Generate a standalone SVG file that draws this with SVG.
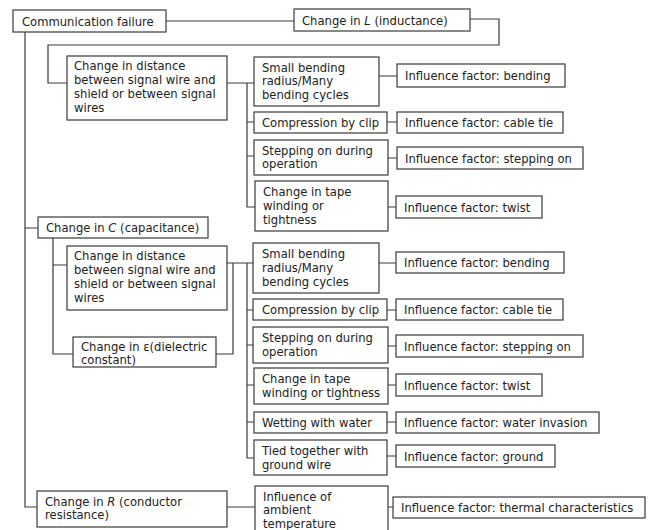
<svg xmlns="http://www.w3.org/2000/svg" width="649" height="530" viewBox="0 0 649 530">
<style>
rect{fill:#fff;stroke:#3a3a3a;stroke-width:1.2}
text{font-family:"DejaVu Sans",Verdana,sans-serif;font-size:11.6px;fill:#222}
#connectors path{fill:none;stroke:#3a3a3a;stroke-width:1.2}
</style>
<rect x="0" y="0" width="649" height="530" style="stroke:none"/>
<g id="connectors">
<path d="M166,21H294M470,19H499V45H48V83H67"/>
<path d="M25,32V507H37"/>
<path d="M227,83H254M247,83V207H255M247,122H254M247,156H254M379,76H397M387,122H397M388,158H397M388,207H396"/>
<path d="M25,228H38M53,238V354H73M53,265H67"/>
<path d="M227,263H253M233,263V354H216M247,263V458H254M247,310H253M247,345H253M247,385H254M247,422H254M379,263H396M387,310H396M388,346H396M388,385H396M387,422H396M387,456H396"/>
<path d="M227,507H255M388,507H393"/>
</g>
<g id="n-comm"><rect x="13" y="10" width="153" height="22"/><text x="22" y="26">Communication failure</text></g>
<g id="n-L"><rect x="294" y="9" width="176" height="22"/><text x="302" y="25">Change in <tspan font-style="italic">L</tspan> (inductance)</text></g>
<g id="n-distL"><rect x="67" y="56" width="160" height="64"/><text x="74" y="70">Change in distance</text><text x="74" y="84">between signal wire and</text><text x="74" y="98">shield or between signal</text><text x="74" y="112">wires</text></g>
<g id="n-bendL"><rect x="254" y="57" width="125" height="49"/><text x="262" y="72">Small bending</text><text x="262" y="85">radius/Many</text><text x="262" y="99">bending cycles</text></g>
<g id="n-ifbendL"><rect x="397" y="64" width="168" height="23"/><text x="405" y="80">Influence factor: bending</text></g>
<g id="n-clipL"><rect x="254" y="112" width="133" height="21"/><text x="262" y="127">Compression by clip</text></g>
<g id="n-ifclipL"><rect x="397" y="112" width="166" height="21"/><text x="405" y="127">Influence factor: cable tie</text></g>
<g id="n-stepL"><rect x="254" y="140" width="134" height="35"/><text x="262" y="155">Stepping on during</text><text x="262" y="168">operation</text></g>
<g id="n-ifstepL"><rect x="397" y="147" width="186" height="22"/><text x="405" y="163">Influence factor: stepping on</text></g>
<g id="n-tapeL"><rect x="255" y="181" width="133" height="50"/><text x="263" y="196">Change in tape</text><text x="263" y="210">winding or</text><text x="263" y="224">tightness</text></g>
<g id="n-iftwistL"><rect x="396" y="196" width="146" height="22"/><text x="404" y="212">Influence factor: twist</text></g>
<g id="n-C"><rect x="38" y="217" width="170" height="21"/><text x="46" y="232">Change in <tspan font-style="italic">C</tspan> (capacitance)</text></g>
<g id="n-distC"><rect x="67" y="246" width="160" height="64"/><text x="74" y="260">Change in distance</text><text x="74" y="274">between signal wire and</text><text x="74" y="288">shield or between signal</text><text x="74" y="302">wires</text></g>
<g id="n-eps"><rect x="73" y="337" width="143" height="30"/><text x="81" y="351">Change in ε(dielectric</text><text x="81" y="364">constant)</text></g>
<g id="n-bendC"><rect x="253" y="243" width="126" height="50"/><text x="262" y="258">Small bending</text><text x="262" y="272">radius/Many</text><text x="262" y="286">bending cycles</text></g>
<g id="n-ifbendC"><rect x="396" y="252" width="168" height="21"/><text x="404" y="267">Influence factor: bending</text></g>
<g id="n-clipC"><rect x="253" y="299" width="134" height="21"/><text x="262" y="314">Compression by clip</text></g>
<g id="n-ifclipC"><rect x="396" y="299" width="167" height="21"/><text x="404" y="314">Influence factor: cable tie</text></g>
<g id="n-stepC"><rect x="253" y="327" width="135" height="36"/><text x="262" y="342">Stepping on during</text><text x="262" y="356">operation</text></g>
<g id="n-ifstepC"><rect x="396" y="335" width="187" height="22"/><text x="404" y="351">Influence factor: stepping on</text></g>
<g id="n-tapeC"><rect x="254" y="368" width="134" height="36"/><text x="262" y="383">Change in tape</text><text x="262" y="397">winding or tightness</text></g>
<g id="n-iftwistC"><rect x="396" y="374" width="146" height="22"/><text x="404" y="390">Influence factor: twist</text></g>
<g id="n-wet"><rect x="254" y="412" width="133" height="21"/><text x="262" y="427">Wetting with water</text></g>
<g id="n-ifwet"><rect x="396" y="412" width="203" height="21"/><text x="404" y="427">Influence factor: water invasion</text></g>
<g id="n-tied"><rect x="254" y="440" width="133" height="35"/><text x="262" y="455">Tied together with</text><text x="262" y="469">ground wire</text></g>
<g id="n-ifground"><rect x="396" y="445" width="159" height="22"/><text x="404" y="461">Influence factor: ground</text></g>
<g id="n-R"><rect x="37" y="491" width="190" height="36"/><text x="45" y="506">Change in <tspan font-style="italic">R</tspan> (conductor</text><text x="45" y="519">resistance)</text></g>
<g id="n-amb"><rect x="255" y="486" width="133" height="50"/><text x="263" y="501">Influence of</text><text x="263" y="514">ambient</text><text x="263" y="528">temperature</text></g>
<g id="n-ifthermal"><rect x="393" y="497" width="252" height="21"/><text x="401" y="512">Influence factor: thermal characteristics</text></g>
</svg>
